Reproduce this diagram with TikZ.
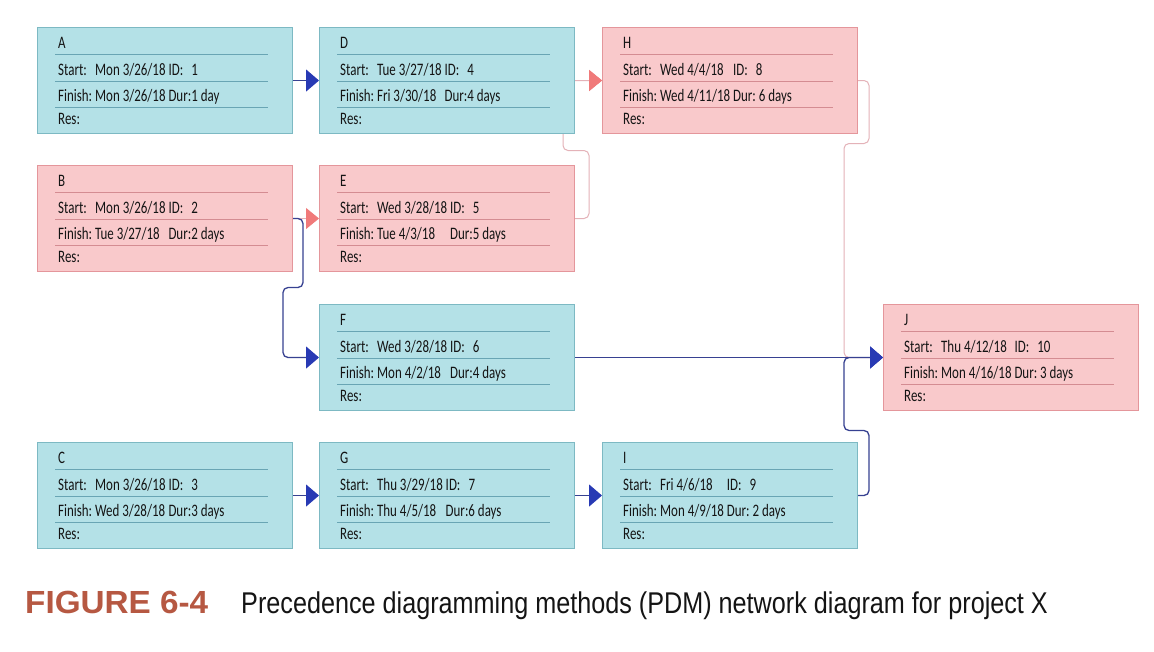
\documentclass[tikz,border=0pt]{standalone}
\usepackage{fontspec}
\setmainfont{Carlito}[FakeStretch=0.74]
\newfontfamily\figfont{Liberation Sans}[FakeStretch=0.84]
\newfontfamily\fignofont{Liberation Sans}[FakeStretch=1.04]
\usepackage{tikz}
\usetikzlibrary{arrows.meta,backgrounds,calc}

\definecolor{taskfill}{RGB}{180,225,231}
\definecolor{taskedge}{RGB}{125,185,195}
\definecolor{taskrule}{RGB}{105,165,180}
\definecolor{critfill}{RGB}{249,201,203}
\definecolor{critedge}{RGB}{228,150,155}
\definecolor{critrule}{RGB}{212,140,146}
\definecolor{flowline}{RGB}{55,65,145}
\definecolor{flowhead}{RGB}{40,58,180}
\definecolor{critline}{RGB}{228,178,184}
\definecolor{crithead}{RGB}{240,122,122}
\definecolor{txtgray}{RGB}{20,20,20}
\definecolor{figred}{RGB}{182,88,66}

% one task of the network: name, top left corner, style, task, start, id, finish, dur
\newcommand{\pdmnode}[8]{%
  \node[#3,anchor=north west] (#1) at (#2) {};
  \node[anchor=base west] (#1_T) at ($(#1.north west)+(21,21)$) {#4};
  \node[anchor=base west] (#1_S) at ($(#1.north west)+(21,48)$)
  {\begin{tabular}[t]{@{}l@{\ }l@{\ }l@{}l@{}}
      Start: & #5 & ID: & #6\\
      Finish: & #7 & Dur: & #8
    \end{tabular}};
  \node[anchor=base west] (#1_R) at ($(#1.north west)+(21,97)$) {Res:};
  \foreach \yy in {27,54,80}
  \draw[#3 rule] ($(#1.north west)+(18,\yy)$) -- +(213,0);
}

\begin{document}
\begin{tikzpicture}
  \begin{scope}[x=1pt,y=-1pt,every node/.style={inner sep=0pt,text=txtgray,
      font=\fontsize{17.5}{26}\selectfont},
    taskbox/.style={rectangle,minimum width=255pt,minimum height=106pt,
      fill=taskfill,draw=taskedge,line width=1pt},
    critbox/.style={taskbox,fill=critfill,draw=critedge},
    taskbox rule/.style={draw=taskrule,line width=0.9pt},
    critbox rule/.style={draw=critrule,line width=0.9pt},
    flow/.style={draw=flowline,line width=1.3pt,rounded corners=5pt,
      -{Triangle[length=13pt,width=22pt,color=flowhead]}},
    critflow/.style={draw=critline,line width=1pt,rounded corners=5pt,
      -{Triangle[length=13pt,width=21pt,color=crithead]}}]
    \useasboundingbox (0,0) rectangle (1154,651);

    \pdmnode{A}{37,27}{taskbox}{A}{Mon 3/26/18}{1}{Mon 3/26/18}{1 day}
    \pdmnode{D}{319,27}{taskbox}{D}{Tue 3/27/18}{4}{Fri 3/30/18}{4 days}
    \pdmnode{H}{602,27}{critbox}{H}{Wed 4/4/18}{8}{Wed 4/11/18}{\ 6 days}
    \pdmnode{B}{37,165}{critbox}{B}{Mon 3/26/18}{2}{Tue 3/27/18}{2 days}
    \pdmnode{E}{319,165}{critbox}{E}{Wed 3/28/18}{5}{Tue 4/3/18}{5 days}
    \pdmnode{F}{319,304}{taskbox}{F}{Wed 3/28/18}{6}{Mon 4/2/18}{4 days}
    \pdmnode{J}{883,304}{critbox}{J}{Thu 4/12/18}{10}{Mon 4/16/18}{\ 3 days}
    \pdmnode{C}{37,442}{taskbox}{C}{Mon 3/26/18}{3}{Wed 3/28/18}{3 days}
    \pdmnode{G}{319,442}{taskbox}{G}{Thu 3/29/18}{7}{Thu 4/5/18}{6 days}
    \pdmnode{I}{602,442}{taskbox}{I}{Fri 4/6/18}{9}{Mon 4/9/18}{\ 2 days}

    \begin{scope}[on background layer]
      \fill[white] (0,0) rectangle (1154,651);
      % critical links first, the blue ones run over them
      \draw[critflow] (D.east) -- (H.west);
      \draw[critflow] (B.east) -- (E.west);
      \draw[critflow] (E.east) -- ++(14,0) -- ++(0,-68) -- ++(-26,0) |- (H.west);
      \draw[critflow] (H.east) -- ++(11,0) -- ++(0,63) -- ++(-25,0) |- (J.west);

      \draw[flow] (A.east) -- (D.west);
      \draw[flow] (B.east) -- ++(10,0) -- ++(0,69) -- ++(-20,0) |- (F.west);
      \draw[flow] (F.east) -- (J.west);
      \draw[flow] (I.east) -- ++(11,0) -- ++(0,-65) -- ++(-25,0) |- (J.west);
      \draw[flow] (C.east) -- (G.west);
      \draw[flow] (G.east) -- (I.west);
    \end{scope}

    \node[anchor=base west,font=\fignofont\bfseries\fontsize{32}{34}\selectfont,
    text=figred] (fig_no) at (25,613) {FIGURE 6-4};
    \node[anchor=base west,font=\figfont\fontsize{30}{33}\selectfont,
    text=txtgray] (fig_title) at (241,613)
    {Precedence diagramming methods (PDM) network diagram for project X};
  \end{scope}
\end{tikzpicture}
\end{document}
